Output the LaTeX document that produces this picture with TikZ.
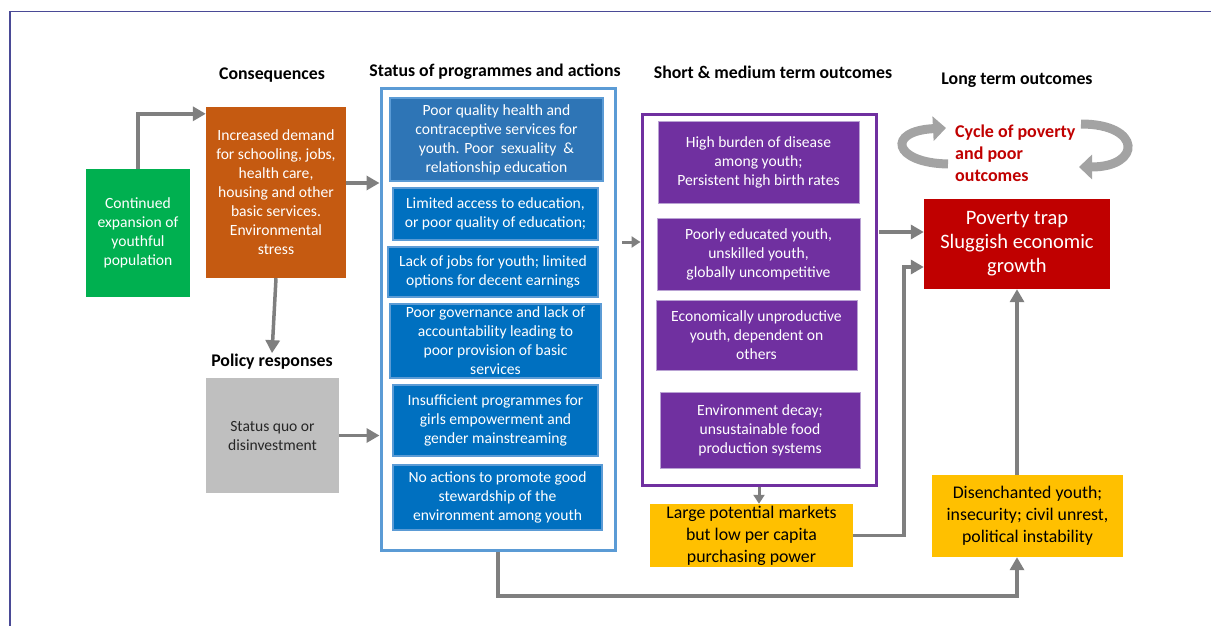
\documentclass[tikz,border=0pt]{standalone}
\usepackage{fontspec}
\setmainfont{Carlito}
\usetikzlibrary{arrows.meta,calc}
\definecolor{cgreen}{HTML}{00B050}
\definecolor{corange}{HTML}{C55A11}
\definecolor{cgraybox}{HTML}{BFBFBF}
\definecolor{cblue}{HTML}{0070C0}
\definecolor{cblueA}{HTML}{2E75B6}
\definecolor{cblueline}{HTML}{5B9BD5}
\definecolor{cpurple}{HTML}{7030A0}
\definecolor{clav}{HTML}{B9A2D3}
\definecolor{cyellow}{HTML}{FFC000}
\definecolor{cred}{HTML}{C00000}
\definecolor{carrow}{HTML}{7F7F7F}
\definecolor{cframe}{HTML}{4A4A96}
\definecolor{ccyc}{HTML}{A3A3A3}
\tikzset{
  arr/.style={draw=carrow, line width=3.5pt, -{Triangle[length=13pt,width=14pt]}},
  sarr/.style={draw=carrow, line width=3pt, -{Triangle[length=9pt,width=11pt]}},
  head/.style={font=\bfseries\fontsize{17.8}{20}\selectfont, inner sep=1pt},
  box/.style={align=center, inner sep=0pt, text=white, font=\fontsize{15.6}{19}\selectfont},
  bluebox/.style={box, fill=cblue, draw=cblueline, line width=2.5pt},
  purpbox/.style={box, fill=cpurple, draw=clav, line width=1pt},
  yelbox/.style={box, fill=cyellow, text=black, font=\fontsize{17.8}{22}\selectfont},
  cyc/.style={draw=ccyc, line width=9pt, -{Triangle[length=13pt,width=24pt]}},
}
\begin{document}
\begin{tikzpicture}[x=1pt,y=-1pt]
\useasboundingbox (0,0) rectangle (1211,626);
% frame
\draw[cframe, line width=1.5pt] (10,626) -- (10,11.5) -- (1211,11.5);

% headings
\node[head] (hcons) at (272,75) {Consequences};
\node[head] (hstat) at (495,72) {Status of programmes and actions};
\node[head] (hshort) at (773,72) {Short \& medium term outcomes};
\node[head] (hlong) at (1017,80) {Long term outcomes};
\node[head] (hpol) at (272,362) {Policy responses};

% left column
\node[box, fill=cgreen, minimum width=104pt, minimum height=128pt] (green) at (138,233)
  {Continued\\expansion of\\youthful\\population};
\node[box, fill=corange, minimum width=140pt, minimum height=171pt] (orange) at (276,192.5)
  {Increased demand\\for schooling, jobs,\\health care,\\housing and other\\basic services.\\Environmental\\stress};
\node[box, fill=cgraybox, text=black!85, minimum width=133pt, minimum height=115pt] (graybox) at (272.5,435.5)
  {Status quo or\\disinvestment};

% blue container
\node[draw=cblueline, line width=3pt, minimum width=234pt, minimum height=461pt, inner sep=0pt] (cont) at (498,319.5) {};
\node[bluebox, fill=cblueA, minimum width=213pt, minimum height=83pt] (b1) at (496.5,139.5)
  {Poor quality health and\\contraceptive services for\\youth. Poor\ \ sexuality\ \ \&\\relationship education};
\node[bluebox, minimum width=205pt, minimum height=52pt] (b2) at (495.5,214)
  {Limited access to education,\\or poor quality of education;};
\node[bluebox, minimum width=210pt, minimum height=50pt] (b3) at (493,272)
  {Lack of jobs for youth; limited\\options for decent earnings};
\node[bluebox, minimum width=211pt, minimum height=74pt] (b4) at (495.5,341)
  {Poor governance and lack of\\accountability leading to\\poor provision of basic\\services};
\node[bluebox, minimum width=205pt, minimum height=71pt] (b5) at (495.5,420.5)
  {Insufficient programmes for\\girls empowerment and\\gender mainstreaming};
\node[bluebox, minimum width=209pt, minimum height=65pt] (b6) at (497.5,497.5)
  {No actions to promote good\\stewardship of the\\environment among youth};

% purple container
\node[draw=cpurple, line width=3pt, minimum width=234pt, minimum height=371pt, inner sep=0pt] (purp) at (759,299.5) {};
\node[purpbox, minimum width=201pt, minimum height=82pt] (p1) at (758.5,162)
  {High burden of disease\\among youth;\\Persistent high birth rates};
\node[purpbox, minimum width=203pt, minimum height=72pt] (p2) at (758.5,254)
  {Poorly educated youth,\\unskilled youth,\\globally uncompetitive};
\node[purpbox, minimum width=201pt, minimum height=70pt] (p3) at (756.5,335)
  {Economically unproductive\\youth, dependent on\\others};
\node[purpbox, minimum width=200pt, minimum height=76pt] (p4) at (760,430)
  {Environment decay;\\unsustainable food\\production systems};

% yellow boxes
\node[yelbox, minimum width=203pt, minimum height=63pt] (y1) at (751.5,535.5)
  {Large potential markets\\but low per capita\\purchasing power};
\node[yelbox, minimum width=191pt, minimum height=82pt] (y2) at (1027.5,516)
  {Disenchanted youth;\\insecurity; civil unrest,\\political instability};

% red box
\node[box, fill=cred, minimum width=186pt, minimum height=90pt, font=\fontsize{20.5}{24}\selectfont] (red) at (1017,244)
  {Poverty trap\\Sluggish economic\\growth};

% cycle text
\node[anchor=west, align=left, text=cred, inner sep=0pt, font=\bfseries\fontsize{18}{22}\selectfont] (cyctext) at (955,153)
  {Cycle of poverty\\and poor\\outcomes};

% cycle arrows
\draw[cyc] (948,164) .. controls (893,163) and (886,131) .. (946,128);
\draw[cyc] (1081,124) .. controls (1142,124) and (1142,167) .. (1079,167);

% coordinates
\coordinate (cA) at (622,242);
\coordinate (cB) at (879,232);
\coordinate (cK) at (904,267);
\coordinate (cBot) at (0,596);

% connectors
\draw[arr] (green.north) |- ([yshift=-7pt]orange.north west);
\draw[arr] ([yshift=9.5pt]orange.east) -- ([yshift=9.5pt]orange.east -| cont.west);
\draw[arr] (orange.south) -- (hpol.north);
\draw[arr] (graybox.east) -- (graybox.east -| cont.west);
\draw[sarr] (cA) -- (cA -| purp.west);
\draw[sarr] (purp.south) -- (purp.south |- y1.north);
\draw[arr] (cB) -- (cB -| red.west);
\draw[arr] (y1.east) -| (cK) -- (cK -| red.west);
\draw[arr] (red.south |- y2.north) -- (red.south);
\draw[arr] (cont.south) -- (cont.south |- cBot) -| (red.south |- y2.south);
\end{tikzpicture}
\end{document}
